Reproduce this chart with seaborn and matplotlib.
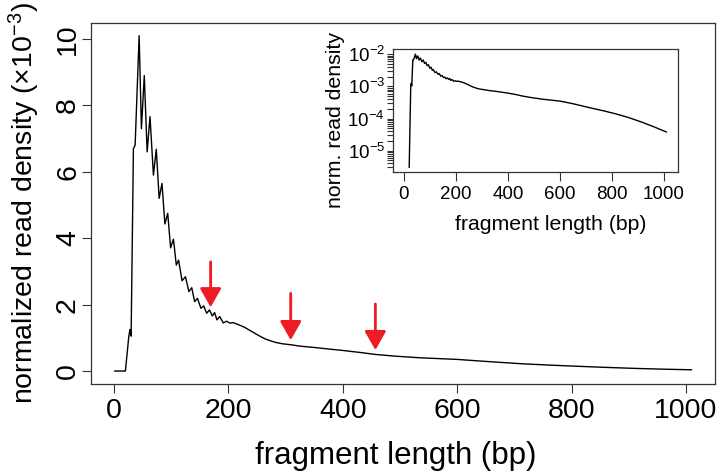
import numpy as np
import pandas as pd
import matplotlib
matplotlib.use("Agg")
import matplotlib.pyplot as plt
import seaborn as sns
from matplotlib.ticker import LogLocator, NullFormatter

# ---- data ----
fragment_bp = [1, 19, 20, 26, 27, 28, 30, 34, 37, 44, 48, 53, 58, 63, 69, 74, 79, 84, 89, 94,
               99, 104, 109, 113, 119, 125, 131, 136, 141, 146, 152, 157, 162, 167, 172, 176,
               180, 185, 191, 197, 203, 208, 214, 220, 228, 237, 246, 255, 264, 272, 283, 295,
               310, 325, 350, 377, 400, 430, 457, 490, 534, 600, 650, 712, 760, 808, 860, 912,
               960, 1010]
density_e3 = [0.0, 0.0, 0.003, 1.05, 1.15, 1.25, 1.05, 6.7, 6.8, 10.1, 7.3, 8.9, 6.6, 7.66, 5.9,
              6.68, 5.2, 5.65, 4.43, 4.75, 3.71, 3.97, 3.19, 3.34, 2.72, 2.84, 2.39, 2.51, 2.09,
              2.19, 1.89, 1.96, 1.74, 1.84, 1.66, 1.76, 1.54, 1.64, 1.45, 1.50, 1.44, 1.46, 1.42,
              1.38, 1.32, 1.23, 1.14, 1.05, 0.97, 0.92, 0.86, 0.82, 0.79, 0.75, 0.71, 0.66, 0.62,
              0.56, 0.50, 0.45, 0.40, 0.35, 0.29, 0.22, 0.18, 0.145, 0.11, 0.079, 0.056, 0.038]

arrow_bp = [169, 309, 457]
arrow_tip = [1.92, 0.93, 0.63]
arrow_top = [3.29, 2.34, 2.02]

x_ticks = [0, 200, 400, 600, 800, 1000]
y_ticks = [0, 2, 4, 6, 8, 10]
inset_y_ticks = [1e-5, 1e-4, 1e-3, 1e-2]
inset_y_labels = ["10$^{-5}$", "10$^{-4}$", "10$^{-3}$", "10$^{-2}$"]

# ---- style ----
sns.set_theme(style="ticks")
plt.rcParams["font.family"] = ["Liberation Sans", "DejaVu Sans"]
plt.rcParams["mathtext.fontset"] = "custom"
plt.rcParams["mathtext.rm"] = "Liberation Sans"
plt.rcParams["mathtext.it"] = "Liberation Sans:italic"
plt.rcParams["mathtext.bf"] = "Liberation Sans:bold"
plt.rcParams["axes.edgecolor"] = "#333333"
plt.rcParams["axes.linewidth"] = 0.9
plt.rcParams["text.color"] = "black"
plt.rcParams["axes.labelcolor"] = "black"
plt.rcParams["xtick.color"] = "#333333"
plt.rcParams["ytick.color"] = "#333333"
plt.rcParams["xtick.labelcolor"] = "black"
plt.rcParams["ytick.labelcolor"] = "black"

df = pd.DataFrame({"bp": fragment_bp, "density": density_e3})

fig = plt.figure(figsize=(7.26, 4.75), dpi=100)

# ---- main axes ----
ax = fig.add_axes([0.1253, 0.1916, 0.8595, 0.7606])
sns.lineplot(data=df, x="bp", y="density", ax=ax, color="black", lw=1.0)
ax.set_xlim(-40.2, 1050.7)
ax.set_ylim(-0.39, 10.49)
ax.set_xticks(x_ticks)
ax.set_yticks(y_ticks)
ax.set_xticklabels([str(v) for v in x_ticks])
ax.set_yticklabels([str(v) for v in y_ticks], rotation=90, va="center")
ax.tick_params(axis="x", direction="out", length=6.5, width=0.8, labelsize=20.5, pad=3.3,
               color="#333333", labelcolor="black")
ax.tick_params(axis="y", direction="out", length=6.5, width=0.8, labelsize=20.5, pad=0.6,
               color="#333333", labelcolor="black")
for s in ax.spines.values():
    s.set_visible(True)
ax.set_xlabel("fragment length (bp)", fontsize=22.5, color="black")
ax.set_ylabel("normalized read density (\u00d710$^{-3}$)", fontsize=20.5, color="black")
ax.xaxis.set_label_coords(0.488, -0.158)
ax.yaxis.set_label_coords(-0.0785, 0.5)

for xb, tip, top in zip(arrow_bp, arrow_tip, arrow_top):
    ax.annotate("", xy=(xb, tip), xytext=(xb, top),
                arrowprops=dict(arrowstyle="-|>,head_length=11.5,head_width=6.5",
                                mutation_scale=1, color="#ed1c24", lw=2.0,
                                shrinkA=0, shrinkB=0), zorder=5)

# ---- inset ----
axi = fig.add_axes([0.5417, 0.6373, 0.3917, 0.2589])
dfi = df[df["density"] > 0].copy()
dfi["density"] = dfi["density"] * 1e-3
sns.lineplot(data=dfi, x="bp", y="density", ax=axi, color="black", lw=1.0)
axi.set_yscale("log")
axi.set_xlim(-41.2, 1052.7)
axi.set_ylim(10 ** -5.672, 10 ** -1.844)
axi.set_xticks(x_ticks)
axi.set_xticklabels([str(v) for v in x_ticks])
axi.set_yticks(inset_y_ticks)
axi.set_yticklabels(inset_y_labels)
axi.yaxis.set_minor_locator(LogLocator(base=10, subs=np.arange(2, 10), numticks=20))
axi.yaxis.set_minor_formatter(NullFormatter())
axi.tick_params(axis="x", direction="out", length=6.5, width=0.8, labelsize=13.5, pad=3.3,
                color="#333333", labelcolor="black")
axi.tick_params(axis="y", which="both", direction="out", length=4.5, width=0.8,
                labelsize=13.5, pad=1.5, color="#333333", labelcolor="black")
for s in axi.spines.values():
    s.set_visible(True)
axi.set_xlabel("fragment length (bp)", fontsize=15.3, color="black")
axi.set_ylabel("norm. read density", fontsize=15.3, color="black")
axi.xaxis.set_label_coords(0.555, -0.347)
axi.yaxis.set_label_coords(-0.17, 0.425)

fig.savefig("out.png", dpi=100)
